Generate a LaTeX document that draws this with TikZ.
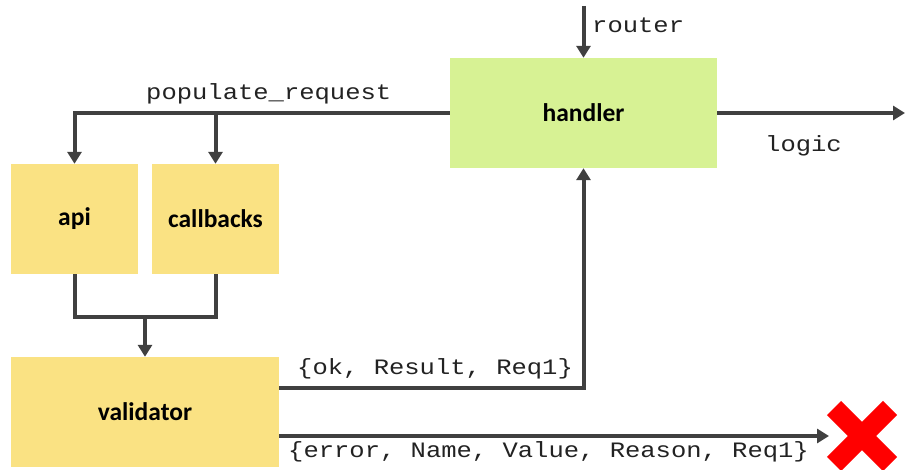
\documentclass[tikz,border=0pt]{standalone}
\usepackage{fontspec}
\usetikzlibrary{arrows.meta}
\newfontfamily\boxfont{Carlito}
\newfontfamily\monofont[FakeStretch=1.16]{Liberation Mono}
\definecolor{ln}{HTML}{404040}
\definecolor{yel}{HTML}{FAE283}
\definecolor{grn}{HTML}{D7F294}
\definecolor{xred}{HTML}{FF0000}
\definecolor{txt}{HTML}{222222}
\tikzset{
  blk/.style={fill=#1, draw=none, inner sep=0pt, font=\boxfont\bfseries\fontsize{25.5}{29}\selectfont},
  lineonly/.style={draw=ln, line width=4pt},
  arr/.style={lineonly, -{Triangle[length=12pt,width=14pt]}},
  lbl/.style={anchor=west, inner sep=0pt, text=txt, font=\monofont\fontsize{22}{26}\selectfont}
}
\begin{document}
\begin{tikzpicture}[x=1pt,y=-1pt]
\useasboundingbox (0,0) rectangle (906,470);
% boxes
\node[blk=grn, minimum width=267pt, minimum height=110pt] (handler) at (583.5,113) {handler};
\node[blk=yel, minimum width=127pt, minimum height=110pt] (api) at (74.5,219) {api};
\node[blk=yel, minimum width=127pt, minimum height=110pt] (callbacks) at (215.5,219) {callbacks};
\node[blk=yel, minimum width=268pt, minimum height=110pt] (validator) at (145,412) {validator};
% free ends
\coordinate (r0) at (583.5,6);
\coordinate (lo) at (905,113);
\coordinate (mg) at (145,317);
\coordinate (okc) at (583.5,388);
\coordinate (erc) at (829,436);
% labels
\node[lbl] (lrouter) at (592,25) {router};
\node[lbl] (llogic) at (765,146) {logic};
\node[lbl] (lpop) at (146,94) {populate\_request};
\node[lbl] (lok) at (297,369) {\{ok, Result, Req1\}};
\node[lbl] (lerr) at (288,452) {\{error, Name, Value, Reason, Req1\}};
% connectors
\draw[arr] (r0) -- (handler.north);
\draw[arr] (handler.east) -- (lo);
\draw[arr] (handler.west) -| (api.north);
\draw[arr] (callbacks.north |- handler.west) -- (callbacks.north);
\draw[lineonly] (api.south) |- (mg) -| (callbacks.south);
\draw[arr] (mg) -- (validator.north);
\draw[arr] (validator.east |- okc) -| (handler.south);
\draw[arr] (validator.east |- erc) -- (erc);
% red cross
\draw[xred, line width=20pt] (834,408) -- (890,464);
\draw[xred, line width=20pt] (834,464) -- (890,408);
\end{tikzpicture}
\end{document}
